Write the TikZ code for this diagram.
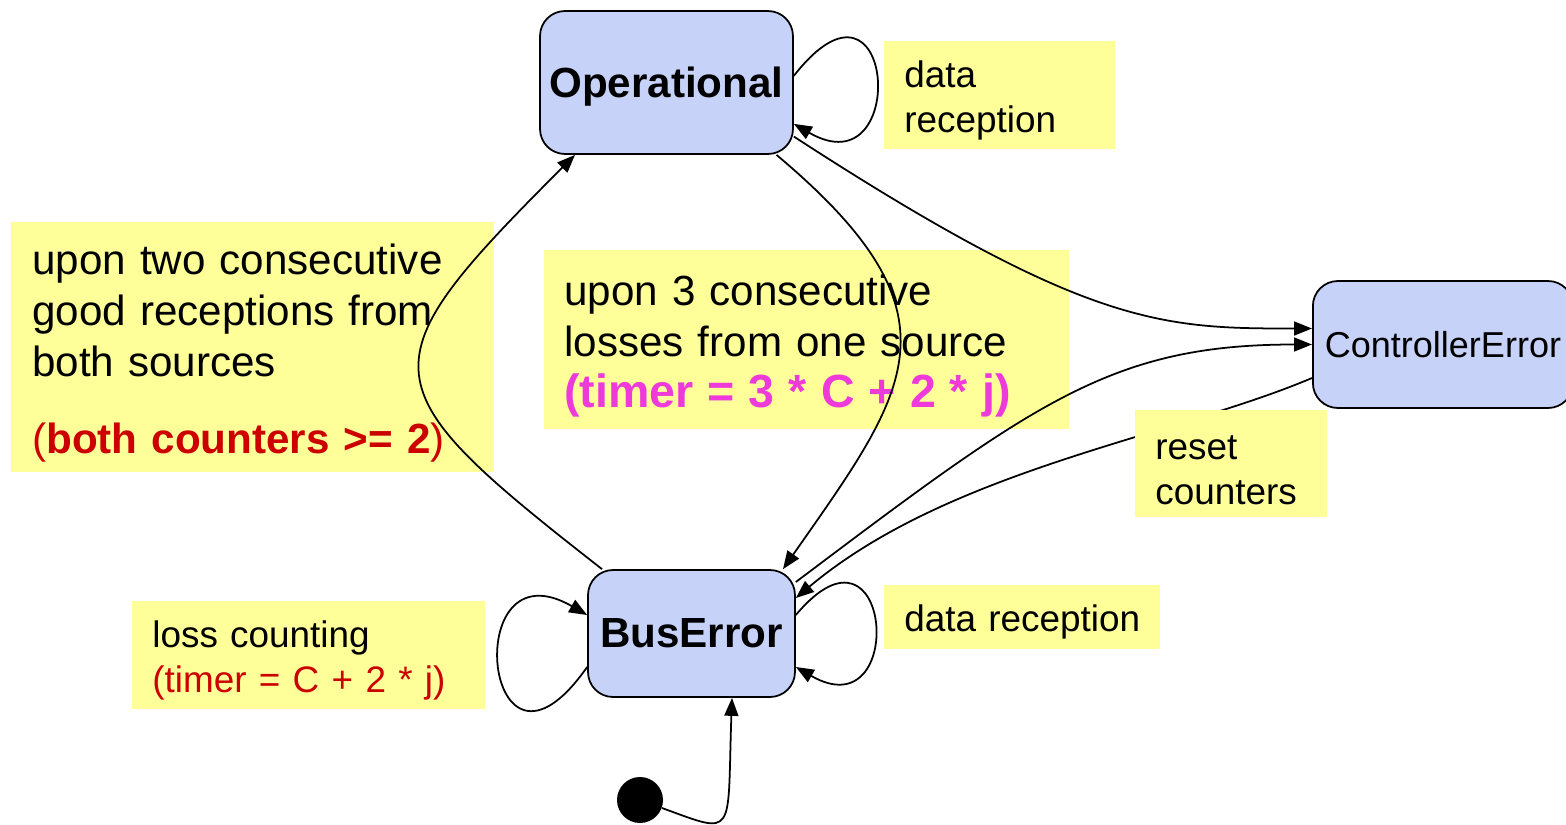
\documentclass[tikz,border=0pt]{standalone}
\usepackage{fontspec}
\setmainfont{Liberation Sans}
\usetikzlibrary{arrows.meta}

\definecolor{stateblue}{RGB}{198,210,248}
\definecolor{noteyellow}{RGB}{255,255,153}
\definecolor{guardred}{RGB}{204,0,0}
\definecolor{timerpink}{RGB}{238,58,218}

\begin{document}
\begin{tikzpicture}
 [x=0.02cm, y=-0.02cm, >={Triangle[length=3.6mm,width=2.8mm]},
  state node/.style={rectangle, rounded corners=0.5cm, draw, line width=1pt, fill=stateblue, inner sep=0pt},
  bold label/.style={font=\fontsize{24}{29}\selectfont\bfseries},
  note node/.style={anchor=north west, fill=noteyellow, align=left, inner xsep=0.4cm, inner ysep=0pt,
    execute at begin node={\rule{0pt}{1em}}},
  big text/.style={font=\fontsize{24}{29}\selectfont},
  small text/.style={font=\fontsize{21}{25.5}\selectfont},
  edge line/.style={->, line width=1pt}]

 \useasboundingbox (0,0) rectangle (1566,825);

 % notes under the transitions
 \node[note node, big text, text width=8.82cm, minimum height=5cm, inner xsep=0.42cm] (goodnote) at (11,222)
  {upon two consecutive\\ good receptions from\\ both sources\\[0.54cm]
   {\color{guardred}(\textbf{both counters >= 2})}};
 \node[note node, big text, text width=9.7cm, minimum height=3.58cm] (lossnote) at (544,250)
  {upon 3 consecutive\\ losses from one source\\
   {\color{timerpink}\bfseries\fontsize{26.5}{29}\selectfont (timer = 3 * C + 2 * j)}};
 \node[note node, small text, text width=3.82cm, minimum height=2.16cm] (oprx) at (884,41) {data\\ reception};
 \node[note node, small text, text width=6.26cm, minimum height=2.16cm] (counting) at (132,601)
  {loss counting\\ {\color{guardred}(timer = C + 2 * j)}};
 \node[note node, small text, text width=4.72cm, minimum height=1.28cm] (busrx) at (884,585) {data reception};

 % states
 \node[state node, bold label, text depth=0pt, minimum width=5.06cm, minimum height=2.86cm] (op) at (666.5,82.5) {Operational};
 \node[state node, bold label, minimum width=4.14cm, minimum height=2.54cm] (bus) at (691.5,633.5) {BusError};
 \node[state node, anchor=west, minimum height=2.54cm, inner xsep=0.24cm, font=\fontsize{20.5}{25}\selectfont] (cerr) at (1312,344.5) {ControllerError};
 \node[circle, fill=black, minimum size=0.92cm, inner sep=0pt] (init) at (640,800) {};

 \path
  (op.3) edge [edge line, out=52, in=-30, out distance=3.3cm, in distance=2.7cm] (op.-18)
  (op.-23) edge [edge line, out=-33, in=180, out distance=7cm, in distance=3cm] ([yshift=0.32cm]cerr.west)
  ([xshift=2.2cm]op.south) edge [edge line, out=-40, in=55, out distance=5cm, in distance=4.4cm] ([xshift=1.83cm]bus.north)

  ([xshift=-1.79cm]bus.north) edge [edge line, out=142, in=225, out distance=6cm, in distance=6cm] ([xshift=-1.83cm]op.south)
  ([yshift=1.03cm]bus.east) edge [edge line, out=37, in=180, out distance=6cm, in distance=4cm] (cerr.west)
  ([yshift=-0.67cm]cerr.west) edge [edge line, out=203, in=40, out distance=3cm, in distance=4cm] ([yshift=0.71cm]bus.east)

  ([yshift=0.37cm]bus.east) edge [edge line, out=50, in=-30, out distance=3cm, in distance=2.6cm] ([yshift=-0.67cm]bus.east)
  ([yshift=-0.67cm]bus.west) edge [edge line, out=235, in=150, out distance=3.6cm, in distance=3cm] ([yshift=0.37cm]bus.west)
  (init.-20) edge [edge line, out=-20, in=-92, out distance=1.6cm, in distance=2.8cm] ([xshift=0.81cm]bus.south);

 % this note sits over its transition
 \node[note node, small text, text width=3.04cm, minimum height=2.14cm] (resetnote) at (1135,410) {reset\\ counters};
\end{tikzpicture}
\end{document}
